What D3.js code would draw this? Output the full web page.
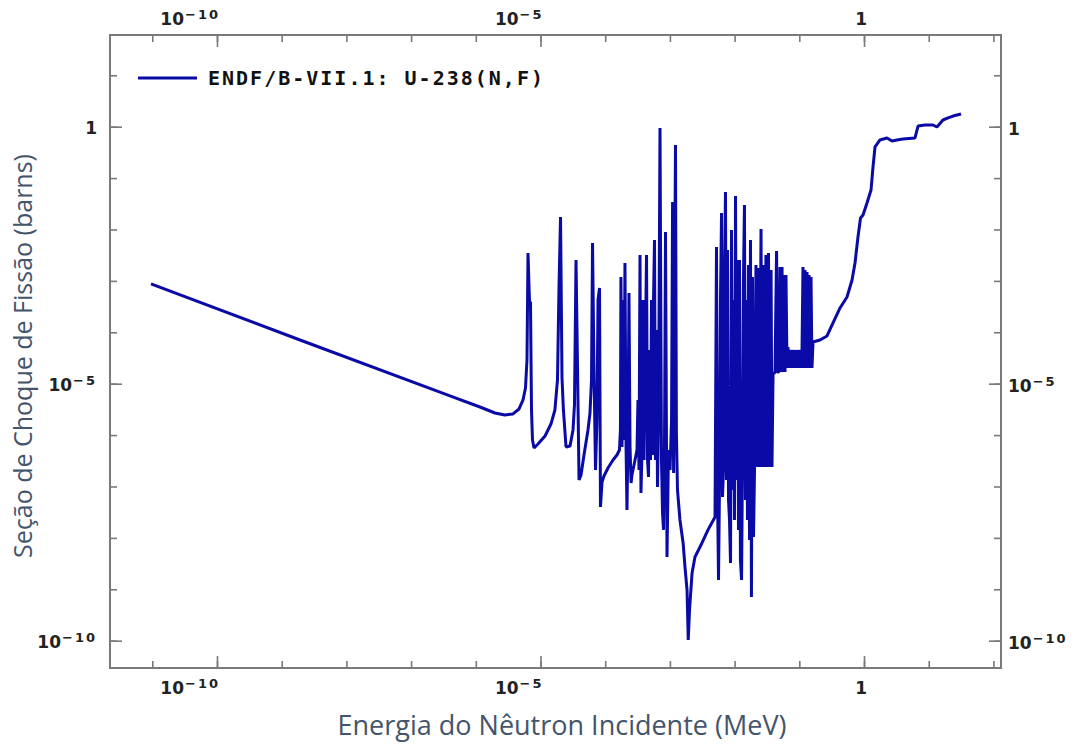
<!DOCTYPE html>
<html>
<head>
<meta charset="utf-8">
<script src="https://cdnjs.cloudflare.com/ajax/libs/d3/7.8.5/d3.min.js"></script>
<style>
  body { margin: 0; background: #fff; }
  svg { display: block; }
</style>
</head>
<body>
<svg id="chart" width="1080" height="745"></svg>
<script>
"use strict";

// ENDF/B-VII.1 U-238 (n,f)
// incident neutron energy (MeV)
const energy = [
  // 1/v part and first resonances
  9.55e-12, 1.92e-9, 3.99e-7, 1.16e-6, 1.98e-6, 2.82e-6, 3.76e-6, 4.66e-6, 5.37e-6, 5.86e-6,
  6.18e-6, 6.41e-6, 6.76e-6, 7.00e-6, 7.26e-6, 7.52e-6, 7.94e-6, 9.14e-6, 1.175e-5, 1.45e-5,
  1.67e-5, 1.83e-5, 1.93e-5, 2.04e-5, 2.15e-5, 2.26e-5, 2.48e-5, 2.86e-5, 3.18e-5, 3.35e-5,
  3.54e-5, 3.73e-5, 3.94e-5, 4.23e-5, 4.70e-5, 5.42e-5, 5.82e-5, 6.14e-5, 6.37e-5, 6.71e-5,
  7.08e-5, 7.46e-5, 7.74e-5, 8.17e-5,
  // resolved resonances, 100 eV .. 5 keV
  8.45e-5, 8.93e-5, 9.57e-5, 1.104e-4, 1.32e-4, 1.52e-4, 1.66e-4, 1.72e-4, 1.75e-4, 1.82e-4,
  1.88e-4, 1.95e-4, 2.02e-4, 2.10e-4, 2.17e-4, 2.25e-4, 2.33e-4, 2.42e-4, 2.51e-4, 2.59e-4,
  2.89e-4, 3.10e-4, 3.21e-4, 3.33e-4, 3.45e-4, 3.57e-4, 3.71e-4, 3.84e-4, 3.98e-4, 4.12e-4,
  4.35e-4, 4.51e-4, 4.67e-4, 4.84e-4, 5.01e-4, 5.20e-4, 5.38e-4, 5.58e-4, 5.78e-4, 5.98e-4,
  6.21e-4, 6.43e-4, 6.67e-4, 7.03e-4, 7.41e-4, 7.69e-4, 7.96e-4, 8.26e-4, 8.55e-4, 9.02e-4,
  9.51e-4, 1.005e-3, 1.06e-3, 1.10e-3, 1.14e-3, 1.18e-3, 1.22e-3, 1.26e-3, 1.31e-3, 1.43e-3,
  1.60e-3, 1.71e-3, 1.84e-3, 1.92e-3, 2.01e-3, 2.20e-3, 2.44e-3, 3.13e-3, 3.88e-3, 4.98e-3,
  // 5 keV .. 20 keV
  5.25e-3, 5.44e-3, 5.64e-3, 5.85e-3, 6.05e-3, 6.28e-3, 6.50e-3, 6.73e-3, 6.98e-3, 7.23e-3,
  7.50e-3, 7.76e-3, 8.05e-3, 8.34e-3, 8.65e-3, 8.95e-3, 9.29e-3, 9.62e-3, 9.95e-3, 1.033e-2,
  1.07e-2, 1.11e-2, 1.148e-2, 1.19e-2, 1.23e-2, 1.28e-2, 1.32e-2, 1.37e-2, 1.42e-2, 1.47e-2,
  1.53e-2, 1.58e-2, 1.64e-2, 1.70e-2, 1.76e-2, 1.82e-2, 1.89e-2, 1.96e-2, 2.03e-2,
  // 20 keV .. 160 keV
  2.14e-2, 2.22e-2, 2.34e-2, 2.43e-2, 2.56e-2, 2.65e-2, 2.80e-2, 2.90e-2, 3.05e-2, 3.17e-2,
  3.34e-2, 3.46e-2, 3.66e-2, 3.78e-2, 3.93e-2, 4.21e-2, 4.45e-2, 4.60e-2, 4.85e-2, 5.03e-2,
  5.21e-2, 5.41e-2, 5.60e-2, 5.81e-2, 6.01e-2, 6.22e-2, 6.46e-2, 6.68e-2, 6.93e-2, 7.18e-2,
  7.45e-2, 7.71e-2, 8.00e-2, 8.28e-2, 8.59e-2, 8.89e-2, 9.21e-2, 9.55e-2, 9.89e-2, 0.1026,
  0.1062, 0.1101, 0.1140, 0.1182, 0.1225, 0.1270, 0.1315, 0.1362, 0.1413, 0.1463,
  0.1517, 0.1570,
  // threshold rise and fast region
  0.1629, 0.209, 0.268, 0.332, 0.426, 0.546, 0.653, 0.726, 0.807, 0.883,
  0.966, 1.112, 1.283, 1.377, 1.479, 1.766, 2.266, 2.71, 3.236, 4.01,
  6.14, 6.84, 8.77, 11.65, 13.4, 16.6, 19.9, 23.8, 31.6
];

// fission cross section (barns)
const sigma = [
  // 1/v part and first resonances
  8.71e-4, 7.08e-5, 5.77e-6, 3.52e-6, 2.69e-6, 2.46e-6, 2.58e-6, 3.22e-6, 4.82e-6, 8.24e-6,
  2.89e-5, 3.49e-3, 3.88e-4, 3.88e-4, 3.08e-6, 8.04e-7, 5.61e-7, 6.71e-7, 9.59e-7, 1.64e-6,
  3.08e-6, 1.18e-5, 7.28e-4, 1.75e-2, 1.29e-5, 3.08e-6, 5.86e-7, 6.14e-7, 1.26e-6, 3.85e-6,
  2.55e-3, 2.31e-5, 1.34e-7, 1.67e-7, 4.10e-7, 1.26e-6, 2.69e-6, 1.18e-5, 5.46e-3, 1.85e-5,
  2.09e-7, 1.97e-6, 4.25e-4, 7.28e-4,
  // resolved resonances, 100 eV .. 5 keV
  3.99e-8, 1.22e-7, 1.60e-7, 2.29e-7, 3.28e-7, 4.10e-7, 5.13e-7, 1.26e-6, 1.19e-3, 5.86e-7,
  4.25e-4, 8.04e-7, 2.23e-3, 5.86e-7, 3.49e-8, 8.04e-7, 5.82e-4, 5.86e-7, 1.17e-7, 1.67e-7,
  3.28e-7, 5.13e-7, 4.82e-6, 2.09e-7, 3.19e-3, 7.48e-8, 5.13e-7, 4.25e-4, 3.28e-7, 1.18e-5,
  3.19e-3, 3.28e-7, 1.53e-7, 4.53e-5, 3.28e-7, 4.25e-4, 4.10e-7, 4.25e-4, 6.25e-3, 3.28e-7,
  1.11e-4, 9.77e-8, 1.97e-6, 0.944, 3.28e-7, 3.05e-8, 1.43e-8, 8.04e-7, 8.93e-3, 4.25e-9,
  5.13e-7, 2.09e-7, 1.97e-6, 3.43e-2, 1.83e-7, 4.25e-4, 0.441, 1.10e-6, 8.55e-8, 2.23e-8,
  7.96e-9, 2.72e-9, 9.68e-10, 1.03e-10, 3.95e-10, 2.07e-9, 4.25e-9, 7.96e-9, 1.43e-8, 2.55e-8,
  // 5 keV .. 20 keV
  4.57e-3, 8.55e-8, 1.52e-9, 1.34e-7, 4.25e-4, 2.09e-2, 6.25e-8, 2.09e-7, 1.19e-3, 5.37e-2,
  1.34e-7, 3.99e-3, 5.46e-8, 2.23e-8, 3.25e-9, 9.77e-3, 8.55e-8, 4.25e-4, 2.23e-8, 4.49e-2,
  1.34e-7, 2.55e-3, 1.43e-8, 2.55e-3, 3.72e-9, 1.52e-9, 2.09e-7, 1.04e-3, 3.00e-2, 5.46e-8,
  4.25e-4, 2.23e-8, 2.04e-3, 9.10e-9, 6.25e-3, 7.08e-10, 1.19e-3, 1.04e-8, 2.09e-7,
  // 20 keV .. 160 keV
  2.04e-3, 2.39e-7, 1.78e-3, 2.39e-7, 1.02e-2, 2.39e-7, 2.04e-3, 2.39e-7, 3.19e-3, 2.39e-7,
  3.49e-3, 2.39e-7, 1.63e-3, 2.39e-7, 1.61e-5, 1.61e-5, 3.82e-3, 1.69e-5, 1.69e-5, 1.86e-3,
  1.69e-5, 1.86e-3, 1.69e-5, 1.30e-3, 1.69e-5, 1.30e-3, 2.02e-5, 5.18e-5, 2.02e-5, 4.53e-5,
  2.02e-5, 4.53e-5, 2.02e-5, 4.53e-5, 2.02e-5, 4.53e-5, 2.02e-5, 4.53e-5, 2.02e-5, 4.53e-5,
  2.02e-5, 4.53e-5, 1.86e-3, 2.02e-5, 1.63e-3, 2.02e-5, 1.49e-3, 2.02e-5, 1.30e-3, 2.02e-5,
  1.19e-3, 2.02e-5,
  // threshold rise and fast region
  6.47e-5, 7.08e-5, 8.47e-5, 1.52e-4, 2.97e-4, 4.86e-4, 1.04e-3, 2.23e-3, 7.14e-3, 1.67e-2,
  1.91e-2, 3.28e-2, 5.86e-2, 0.164, 0.403, 0.551, 0.603, 0.527, 0.551, 0.577,
  0.603, 1.03, 1.08, 1.08, 0.987, 1.35, 1.48, 1.61, 1.77
];

// ticks: one every decade, labels every five decades
const xTickValues = [1e-11, 1e-10, 1e-9, 1e-8, 1e-7, 1e-6, 1e-5, 1e-4, 1e-3, 1e-2, 1e-1, 1, 10, 100];
const yTickValues = [1e-10, 1e-9, 1e-8, 1e-7, 1e-6, 1e-5, 1e-4, 1e-3, 1e-2, 1e-1, 1, 10];
const labelValues = [1e-10, 1e-5, 1];
const labelBase = ["10", "10", "1"];
const labelExp = ["\u221210", "\u22125", ""];

const legendLabel = "ENDF/B-VII.1: U-238(N,F)";
const xTitle = "Energia do Nêutron Incidente (MeV)";
const yTitle = "Seção de Choque de Fissão (barns)";

const axisColor = "#7a7a7a";
const lineColor = "#0a0aa6";
const titleColor = "#44546a";

const svg = d3.select("#chart");

// plot frame
const plotLeft = 110, plotRight = 1001, plotTop = 35, plotBottom = 668;

const x = d3.scaleLog().domain([2.22e-12, 131]).range([plotLeft, plotRight]);
const y = d3.scaleLog().domain([2.94e-11, 60.8]).range([plotBottom, plotTop]);

// ---- axes (ticks point inwards, majors longer)
function drawAxis(axisFn, scale, ticks, size, transform) {
  const g = svg.append("g")
    .attr("transform", transform)
    .call(axisFn(scale).tickValues(ticks).tickSize(-size).tickSizeOuter(0).tickFormat(""));
  g.select(".domain").remove();
  g.selectAll(".tick line").attr("stroke", axisColor).attr("stroke-width", 1.6);
}

drawAxis(d3.axisBottom, x, xTickValues, 7, `translate(0,${plotBottom})`);
drawAxis(d3.axisBottom, x, labelValues, 12, `translate(0,${plotBottom})`);
drawAxis(d3.axisTop, x, xTickValues, 7, `translate(0,${plotTop})`);
drawAxis(d3.axisTop, x, labelValues, 12, `translate(0,${plotTop})`);
drawAxis(d3.axisLeft, y, yTickValues, 7, `translate(${plotLeft},0)`);
drawAxis(d3.axisLeft, y, labelValues, 12, `translate(${plotLeft},0)`);
drawAxis(d3.axisRight, y, yTickValues, 7, `translate(${plotRight},0)`);
drawAxis(d3.axisRight, y, labelValues, 12, `translate(${plotRight},0)`);

svg.append("rect")
  .attr("x", plotLeft).attr("y", plotTop)
  .attr("width", plotRight - plotLeft).attr("height", plotBottom - plotTop)
  .attr("fill", "none")
  .attr("stroke", axisColor)
  .attr("stroke-width", 2);

// ---- tick labels like 10^-5, bold with a superscript
function tickLabel(sel, i) {
  sel.attr("font-family", "'DejaVu Sans', Verdana, sans-serif")
    .attr("font-weight", "bold")
    .attr("font-size", 17)
    .attr("fill", "#222");
  sel.append("tspan").text(labelBase[i]);
  if (labelExp[i]) {
    sel.append("tspan")
      .attr("dy", -6).attr("dx", 1)
      .attr("font-size", 13)
      .attr("letter-spacing", 2)
      .text(labelExp[i]);
  }
}

labelValues.forEach(function(v, i) {
  // bottom
  svg.append("text").attr("x", x(v) + 3).attr("y", 694)
    .attr("text-anchor", "end").call(tickLabel, i);
  // top
  svg.append("text").attr("x", x(v) + 3).attr("y", 25)
    .attr("text-anchor", "end").call(tickLabel, i);
  // left
  svg.append("text").attr("x", 97).attr("y", y(v) + 7)
    .attr("text-anchor", "end").call(tickLabel, i);
  // right
  svg.append("text").attr("x", 1008).attr("y", y(v) + 8)
    .attr("text-anchor", "start").call(tickLabel, i);
});

// ---- the cross section curve
const pts = energy.map((e, i) => [e, sigma[i]]);

const line = d3.line()
  .x(d => x(d[0]))
  .y(d => y(d[1]));

svg.append("path")
  .datum(pts)
  .attr("d", line)
  .attr("fill", "none")
  .attr("stroke", lineColor)
  .attr("stroke-width", 3)
  .attr("stroke-linejoin", "bevel");

// ---- legend
svg.append("line")
  .attr("x1", 138).attr("x2", 197)
  .attr("y1", 78).attr("y2", 78)
  .attr("stroke", lineColor)
  .attr("stroke-width", 3);

svg.append("text")
  .attr("x", 208).attr("y", 85)
  .attr("font-family", "'DejaVu Sans Mono', monospace")
  .attr("font-weight", "bold")
  .attr("font-size", 20)
  .attr("letter-spacing", 2)
  .attr("fill", "#111")
  .text(legendLabel);

// ---- axis titles
svg.append("text")
  .attr("x", 562).attr("y", 735)
  .attr("text-anchor", "middle")
  .attr("font-family", "'Open Sans', sans-serif")
  .attr("font-size", 27)
  .attr("fill", titleColor)
  .text(xTitle);

svg.append("text")
  .attr("transform", "translate(32,356) rotate(-90)")
  .attr("text-anchor", "middle")
  .attr("font-family", "'Open Sans', sans-serif")
  .attr("font-size", 25)
  .attr("fill", titleColor)
  .text(yTitle);
</script>
</body>
</html>
